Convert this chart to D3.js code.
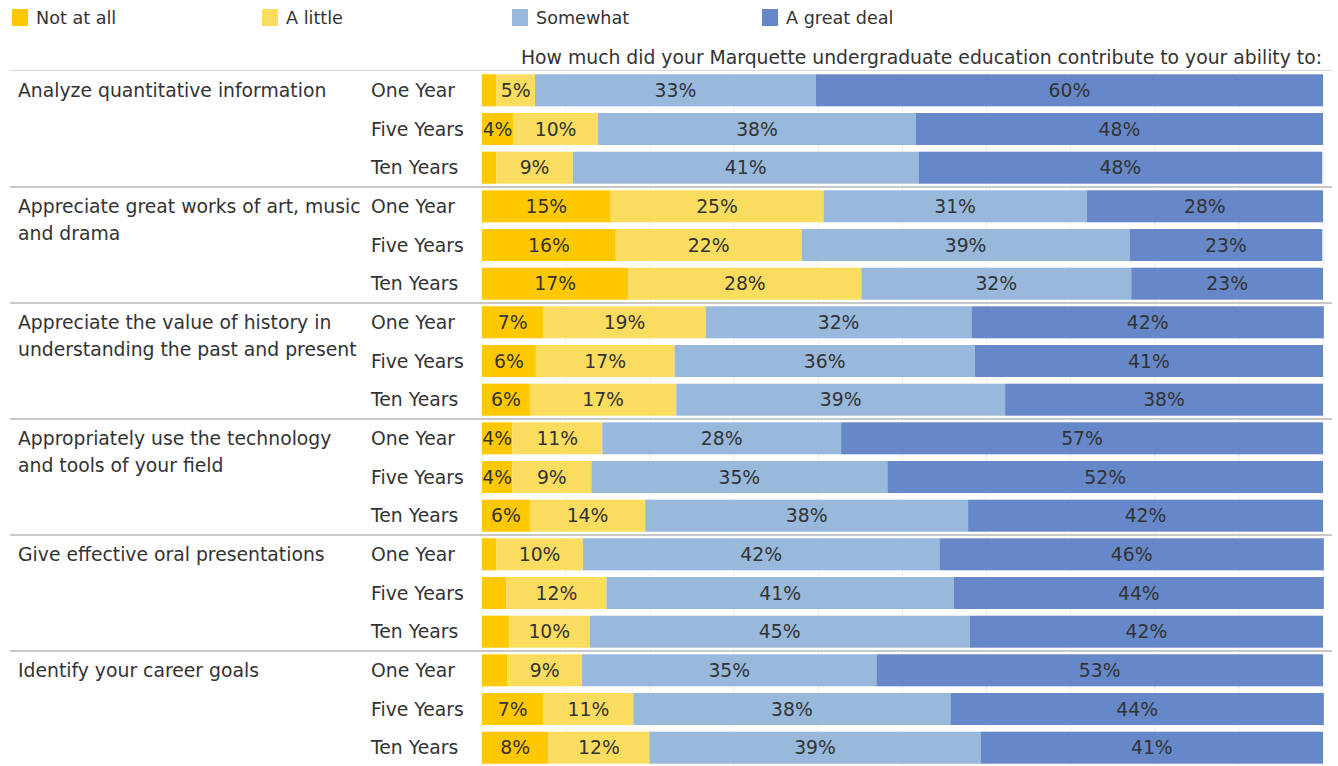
<!DOCTYPE html>
<html>
<head>
<meta charset="utf-8">
<script src="https://cdn.jsdelivr.net/npm/d3@7"></script>
<style>
  body { margin: 0; background: #fff; }
  svg { font-family: "DejaVu Sans", sans-serif; }
</style>
</head>
<body>
<svg width="1338" height="766"></svg>
<script>
// survey data: share of responses per answer
const questions = [
    "Analyze quantitative information",
    "Appreciate great works of art, music\nand drama",
    "Appreciate the value of history in\nunderstanding the past and present",
    "Appropriately use the technology\nand tools of your field",
    "Give effective oral presentations",
    "Identify your career goals"
];
const periods = ["One Year", "Five Years", "Ten Years"];
const answers = ["Not at all", "A little", "Somewhat", "A great deal"];
const colors = ["#ffc800", "#fadc5e", "#98b9dc", "#6688c9"];

// one row per question x period, values in answer order
const notAtAll = [1.7, 3.7, 1.7,  15.3, 15.9, 17.4,  7.3, 6.4, 5.7,  3.6, 3.6, 5.7,  1.7, 2.9, 3.2,  3.0, 7.3, 7.9];
const aLittle  = [4.6, 10.1, 9.1, 25.3, 22.1, 27.7, 19.3, 16.5, 17.4, 10.7, 9.4, 13.7, 10.3, 11.9, 9.6, 8.9, 10.7, 12.0];
const somewhat = [33.4, 37.8, 41.1, 31.3, 39.0, 32.1, 31.6, 35.7, 39.1, 28.4, 35.2, 38.4, 42.4, 41.3, 45.2, 35.0, 37.7, 39.4];
const greatDeal = [60.3, 48.4, 48.0, 28.1, 22.9, 22.8, 41.9, 41.4, 37.8, 57.3, 51.8, 42.2, 45.7, 44.0, 42.0, 53.1, 44.4, 40.7];

const title = "How much did your Marquette undergraduate education contribute to your ability to:";

const svg = d3.select("svg");
const textColor = "#333";
const fontSize = 18.8;

const rows = [];
questions.forEach((q, qi) => {
    periods.forEach((p, pi) => {
        const i = qi * 3 + pi;
        rows.push({ q, p, vals: [notAtAll[i], aLittle[i], somewhat[i], greatDeal[i]] });
    });
});

const x = d3.scaleLinear().domain([0, 100]).range([482, 1323]);
const yGroup = d3.scaleBand().domain(questions).range([71, 767]);
const yRow = d3.scaleBand().domain(periods).range([0, yGroup.bandwidth()])
    .paddingInner(0.173).paddingOuter(0.085);

// legend
const legend = svg.append("g").selectAll("g")
    .data(answers)
    .join("g")
    .attr("transform", (d, i) => "translate(" + (12 + i * 250) + ",9)");
legend.append("rect")
    .attr("width", 16).attr("height", 17)
    .attr("fill", (d, i) => colors[i]);
legend.append("text")
    .attr("x", 24).attr("y", 14.5)
    .attr("font-size", 17.6).attr("fill", textColor)
    .text(d => d);

svg.append("text")
    .attr("x", 1322).attr("y", 64)
    .attr("text-anchor", "end")
    .attr("font-size", fontSize).attr("fill", textColor)
    .text(title);

// vertical gridlines
svg.append("g").selectAll("line")
    .data(d3.range(0, 101, 10))
    .join("line")
    .attr("x1", d => x(d)).attr("x2", d => x(d))
    .attr("y1", 71).attr("y2", 766)
    .attr("stroke", "#ececec").attr("stroke-width", 1);

// bars
const rowG = svg.append("g").selectAll("g")
    .data(rows)
    .join("g")
    .attr("transform", d => "translate(0," + (yGroup(d.q) + yRow(d.p)) + ")");

rowG.each(function (d) {
    const g = d3.select(this);
    let acc = 0;
    const segs = d.vals.map((v, i) => {
        const s = { v, i, x0: acc, x1: acc + v };
        acc += v;
        return s;
    });
    g.selectAll("rect")
        .data(segs)
        .join("rect")
        .attr("x", s => x(s.x0))
        .attr("width", s => x(s.x1) - x(s.x0))
        .attr("height", yRow.bandwidth())
        .attr("fill", s => colors[s.i]);
    g.selectAll("text.val")
        .data(segs.filter(s => Math.round(s.v) >= 4))
        .join("text")
        .attr("class", "val")
        .attr("x", s => (x(s.x0) + x(s.x1)) / 2)
        .attr("y", yRow.bandwidth() / 2)
        .attr("dy", "0.35em")
        .attr("text-anchor", "middle")
        .attr("font-size", fontSize).attr("fill", textColor)
        .text(s => Math.round(s.v) + "%");
    g.append("text")
        .attr("x", 371)
        .attr("y", yRow.bandwidth() / 2)
        .attr("dy", "0.35em")
        .attr("font-size", fontSize).attr("fill", textColor)
        .text(d.p);
});

// question labels
svg.append("g").selectAll("text")
    .data(questions)
    .join("text")
    .attr("x", 18)
    .attr("y", d => yGroup(d) + yRow("One Year") + yRow.bandwidth() / 2)
    .attr("font-size", fontSize).attr("fill", textColor)
    .each(function (d) {
        d3.select(this).selectAll("tspan")
            .data(d.split("\n"))
            .join("tspan")
            .attr("x", 18)
            .attr("dy", (t, i) => i === 0 ? "0.35em" : 27)
            .text(t => t);
    });

// separators
svg.append("g").selectAll("line")
    .data(questions.slice(1))
    .join("line")
    .attr("x1", 10).attr("x2", 1332)
    .attr("y1", d => yGroup(d)).attr("y2", d => yGroup(d))
    .attr("stroke", "#c8c8c8").attr("stroke-width", 2);
svg.append("line")
    .attr("x1", 10).attr("x2", 1332)
    .attr("y1", 70.5).attr("y2", 70.5)
    .attr("stroke", "#d9d9d9").attr("stroke-width", 1);
</script>
</body>
</html>
